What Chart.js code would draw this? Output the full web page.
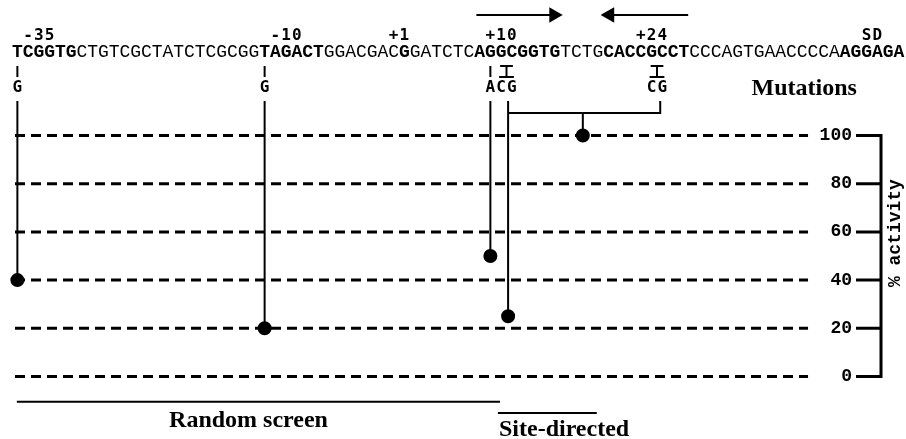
<!DOCTYPE html>
<html>
<head>
<meta charset="utf-8">
<script src="https://cdn.jsdelivr.net/npm/chart.js@4.4.1/dist/chart.umd.min.js"></script>
<style>
  html, body { margin: 0; padding: 0; background: #fff; }
</style>
</head>
<body>
<canvas id="promoter-chart" width="906" height="439"></canvas>
<script>
// promoter sequence, bold and plain parts alternate
const seqParts = ["TCGGTG", "CTGTCGCTATCTCGCGG", "TAGACT", "GGACGAC", "G", "GATCTC",
  "AGGCGGTG", "TCTG", "CACCGCCT", "CCCAGTGAACCCCA", "AGGAGA"];
const seqBold = [true, false, true, false, true, false, true, false, true, false, true];

// position labels above the sequence (first column of the label)
const siteLabels = ["-35", "-10", "+1", "+10", "+24", "SD"];
const siteCols = [1, 24, 35, 44, 58, 79];

// substitutions written under the sequence
const mutLetters = ["G", "G", "ACG", "CG"];
const mutLetterCols = [0, 23, 44, 59];
const singleMarkCols = [0, 23, 44];   // "|" marks
const pairMarkCols = [45, 59];        // "I" marks over two bases

// measured activity of each mutant (x = sequence column)
const mutCols = [0.5, 23.5, 44.5, 46.15, 53.1];
const mutActivity = [40, 20, 50, 25, 100];
const HANGING = 4; // this one hangs from the bracket

// inverted repeat arrows
const arrowFrom = [43.2, 62.9];
const arrowTo = [51, 55];

// groups below the chart
const groupNames = ["Random screen", "Site-directed"];
const groupFrom = [0.45, 45.2];
const groupTo = [45.4, 54.4];
const groupTextCol = [22.0, 45.3];
const groupAlign = ["center", "left"];

const activityTicks = [0, 20, 40, 60, 80, 100];

// rows, in activity units of the y scale
const ARROW_Y = 150.0, LABEL_Y = 139.6, SEQ_Y = 132.6;
const MARK_TOP = 128.8, MARK_BOT = 124.3, MUT_Y = 118.0;
const DROP_TOP = 114.3, BRACKET_Y = 109.3, BRACKET_END = 60.3;
const GROUP_LINE_Y = [-10.5, -15.1], GROUP_TEXT_Y = [-21.0, -24.7];
const GRID_FROM = 0.28, GRID_TO = 74.05;

const MONO = "'Liberation Mono', 'Courier New', monospace";
const LABEL_FONT = "bold 16px 'DejaVu Sans Mono', monospace";
const SERIF = "'Liberation Serif', 'Times New Roman', serif";

function seg(points, extra) {
  return Object.assign({
    data: points,
    showLine: true,
    borderColor: "#000",
    backgroundColor: "#000",
    borderWidth: 2,
    pointRadius: 0,
  }, extra);
}

const datasets = [];
activityTicks.forEach(v => {
  datasets.push(seg([{x: GRID_FROM, y: v}, {x: GRID_TO, y: v}],
    {borderWidth: 3, borderDash: [10, 6]}));
});
mutCols.forEach((c, i) => {
  const top = i === HANGING ? BRACKET_Y : DROP_TOP;
  datasets.push(seg([{x: c, y: top}, {x: c, y: mutActivity[i]}], {pointRadius: [0, 6]}));
});
// bracket joining the two site-directed changes
datasets.push(seg([
  {x: mutCols[3], y: BRACKET_Y}, {x: BRACKET_END, y: BRACKET_Y}, {x: BRACKET_END, y: DROP_TOP}
]));
arrowFrom.forEach((c, i) => {
  const dir = arrowTo[i] > c ? 1 : -1;
  datasets.push(seg([{x: c, y: ARROW_Y}, {x: arrowTo[i] - dir * 0.6, y: ARROW_Y}], {
    pointRadius: [0, 7], pointStyle: "triangle", rotation: [0, dir * 90]
  }));
});
groupNames.forEach((g, i) => {
  datasets.push(seg([{x: groupFrom[i], y: GROUP_LINE_Y[i]}, {x: groupTo[i], y: GROUP_LINE_Y[i]}]));
});

const annotate = {
  id: "annotate",
  afterDatasetsDraw(chart) {
    const {ctx, scales: {x, y}} = chart;
    const colX = c => x.getPixelForValue(c + 0.5);
    const py = v => y.getPixelForValue(v);
    ctx.save();
    ctx.fillStyle = "#000";
    ctx.strokeStyle = "#000";
    ctx.textAlign = "center";
    ctx.textBaseline = "alphabetic";

    // sequence
    let col = 0;
    seqParts.forEach((part, i) => {
      ctx.font = (seqBold[i] ? "bold " : "") + "18px " + MONO;
      for (const ch of part) {
        ctx.fillText(ch, colX(col), py(SEQ_Y));
        col++;
      }
    });

    // labels above and substitutions below
    ctx.font = LABEL_FONT;
    siteLabels.forEach((t, i) => {
      [...t].forEach((ch, k) => ctx.fillText(ch, colX(siteCols[i] + k), py(LABEL_Y)));
    });
    mutLetters.forEach((t, i) => {
      [...t].forEach((ch, k) => ctx.fillText(ch, colX(mutLetterCols[i] + k), py(MUT_Y)));
    });

    ctx.lineWidth = 2;
    ctx.beginPath();
    singleMarkCols.forEach(c => {
      ctx.moveTo(colX(c), py(MARK_TOP));
      ctx.lineTo(colX(c), py(MARK_BOT));
    });
    pairMarkCols.forEach(c => {
      const l = colX(c) - 1, r = colX(c + 1) + 1, m = (l + r) / 2;
      ctx.moveTo(l, py(MARK_TOP)); ctx.lineTo(r, py(MARK_TOP));
      ctx.moveTo(m, py(MARK_TOP)); ctx.lineTo(m, py(MARK_BOT));
      ctx.moveTo(l - 1, py(MARK_BOT)); ctx.lineTo(r + 1, py(MARK_BOT));
    });
    ctx.stroke();

    ctx.font = "bold 24px " + SERIF;
    ctx.fillText("Mutations", x.getPixelForValue(73.7), py(116.8));
    groupNames.forEach((g, i) => {
      ctx.textAlign = groupAlign[i];
      ctx.fillText(g, x.getPixelForValue(groupTextCol[i]), py(GROUP_TEXT_Y[i]));
    });

    // right axis: line and tick marks
    const ax = y.left;
    ctx.lineWidth = 3;
    ctx.beginPath();
    ctx.moveTo(ax, py(0) + 1.5);
    ctx.lineTo(ax, py(100) - 1.5);
    activityTicks.forEach(v => {
      ctx.moveTo(ax - 25, py(v));
      ctx.lineTo(ax, py(v));
    });
    ctx.stroke();

    // axis title
    ctx.translate(ax + 14, py(59.5));
    ctx.rotate(-Math.PI / 2);
    ctx.textAlign = "center";
    ctx.textBaseline = "middle";
    ctx.font = "bold 18px " + MONO;
    ctx.fillText("% activity", 0, 0);
    ctx.restore();
  }
};

new Chart(document.getElementById("promoter-chart"), {
  type: "scatter",
  data: {datasets: datasets},
  options: {
    responsive: false,
    animation: false,
    layout: {padding: 0, autoPadding: false},
    plugins: {legend: {display: false}, tooltip: {enabled: false}},
    scales: {
      x: {
        type: "linear",
        display: false,
        min: -12 / 10.75,
        max: (881 - 12) / 10.75,
      },
      y: {
        type: "linear",
        position: "right",
        min: -25.93,
        max: 156.22,
        afterBuildTicks: s => { s.ticks = activityTicks.map(v => ({value: v})); },
        afterFit: s => { s.width = 25; },
        grid: {display: false},
        border: {display: false},
        ticks: {
          mirror: true,
          padding: -29,
          color: "#000",
          font: {family: "'Liberation Mono'", weight: "bold", size: 18},
        },
      },
    },
  },
  plugins: [annotate],
});
</script>
</body>
</html>
